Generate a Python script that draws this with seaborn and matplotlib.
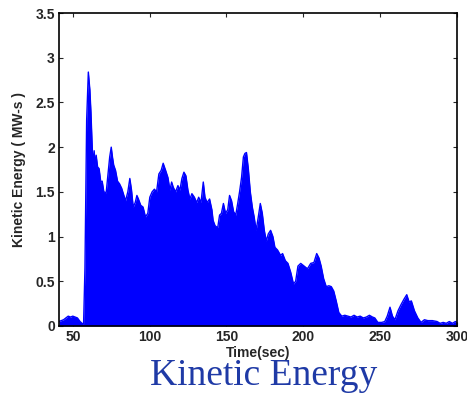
import numpy as np
import seaborn as sns
import matplotlib
matplotlib.use('Agg')
import matplotlib.pyplot as plt

# envelope of the kinetic energy trace (time in sec, MW-s)
time_sec = [41, 42.5, 44, 45.5, 47, 48.5, 50, 51.5, 53, 54.7, 56, 57,
            57.9, 59, 60.1, 61.1, 61.8, 62.5, 63.2, 63.9, 64.5, 65.2, 66.1, 67.1,
            68.2, 69.1, 70.2, 71.7, 73, 74, 75, 75.8, 76.6, 77.8, 79.1, 80.4,
            81.8, 82.9, 84.3, 85.8, 87.1, 88.2, 89.3, 90.6, 91.7, 92.7, 94.2, 95.7,
            97.3, 98.8, 100.1, 101.6, 103.1, 104.5, 106, 107.5, 108.8, 110.4, 111.9, 113.2,
            114.3, 115.4, 116.9, 118.4, 119.7, 121, 122.3, 123.6, 124.9, 126.2, 127.5, 129.1,
            130.6, 131.9, 133.4, 134.9, 136, 137.4, 139, 140.5, 141.3, 142.6, 144.3, 145.5,
            146.7, 148, 149.4, 150.8, 152, 153.3, 154.6, 156, 157.2, 158.5, 159.8, 161,
            162, 163, 164.2, 165.5, 166.8, 168, 169.3, 170.7, 172, 173.3, 174.6, 175.9,
            177.2, 178.7, 180.2, 181.5, 183.2, 185.2, 186.5, 188.3, 190, 191.8, 193.6, 195,
            196.5, 198.3, 200.5, 202.7, 204.8, 206.9, 208.7, 210.2, 211.6, 213.2, 214.9, 216.6,
            218.2, 219.8, 221.4, 223.1, 225, 227, 229, 231, 233, 235, 237, 239,
            241, 243, 245, 246.5, 248.5, 251, 253, 254.6, 256.4, 258, 259.6, 261.6,
            263.6, 265.5, 267.3, 268.8, 270.3, 272.3, 274.5, 276.6, 278.8, 281, 284, 287,
            289, 291, 293, 295, 297, 299, 300]
kinetic_energy = [0.05, 0.06, 0.07, 0.09, 0.11, 0.10, 0.11, 0.10, 0.09, 0.05, 0.03, 0.02,
                  0.65, 2.30, 2.84, 2.64, 2.39, 2.06, 1.78, 1.96, 1.80, 1.91, 1.78, 1.76,
                  1.61, 1.62, 1.50, 1.49, 1.72, 1.89, 2.00, 1.89, 1.80, 1.74, 1.62, 1.59,
                  1.54, 1.48, 1.40, 1.50, 1.65, 1.52, 1.33, 1.38, 1.46, 1.42, 1.35, 1.33,
                  1.22, 1.26, 1.44, 1.50, 1.53, 1.50, 1.70, 1.74, 1.82, 1.74, 1.66, 1.52,
                  1.61, 1.55, 1.50, 1.57, 1.52, 1.65, 1.72, 1.68, 1.52, 1.42, 1.48, 1.44,
                  1.38, 1.44, 1.38, 1.61, 1.44, 1.38, 1.42, 1.30, 1.18, 1.12, 1.10, 1.24,
                  1.26, 1.37, 1.26, 1.30, 1.46, 1.40, 1.28, 1.24, 1.36, 1.50, 1.66, 1.89,
                  1.93, 1.94, 1.76, 1.50, 1.33, 1.22, 1.07, 1.22, 1.37, 1.26, 1.07, 0.95,
                  1.03, 1.07, 1.00, 0.88, 0.85, 0.79, 0.81, 0.73, 0.70, 0.60, 0.47, 0.50,
                  0.67, 0.70, 0.67, 0.64, 0.70, 0.71, 0.81, 0.76, 0.67, 0.53, 0.44, 0.45,
                  0.44, 0.39, 0.28, 0.15, 0.11, 0.12, 0.11, 0.10, 0.12, 0.10, 0.11, 0.09,
                  0.10, 0.12, 0.10, 0.09, 0.04, 0.04, 0.05, 0.11, 0.21, 0.11, 0.07, 0.17,
                  0.24, 0.30, 0.35, 0.27, 0.28, 0.17, 0.09, 0.04, 0.07, 0.06, 0.06, 0.05,
                  0.03, 0.04, 0.03, 0.05, 0.03, 0.05, 0.04]

xticks = [50, 100, 150, 200, 250, 300]
yticks = [0, 0.5, 1, 1.5, 2, 2.5, 3, 3.5]
ytick_labels = ['0', '0.5', '1', '1.5', '2', '2.5', '3', '3.5']

sns.set_style('ticks')
plt.rcParams['font.family'] = ['Liberation Sans', 'DejaVu Sans']
plt.rcParams['xtick.direction'] = 'in'
plt.rcParams['ytick.direction'] = 'in'

fig = plt.figure(figsize=(4.67, 3.95), dpi=100)
ax = fig.add_axes([0.1263, 0.1747, 0.8523, 0.7923])

ax.fill_between(time_sec, 0, kinetic_energy, color='#0000ff', lw=0)
sns.lineplot(x=time_sec, y=kinetic_energy, color='#0000ff', lw=1.0, ax=ax)

ax.set_xlim(41, 300)
ax.set_ylim(0, 3.5)
ax.set_xticks(xticks)
ax.set_yticks(yticks)
ax.set_yticklabels(ytick_labels)
ax.tick_params(axis='both', labelsize=10, length=3, width=0.8, top=True, right=True, pad=3)
for lab in ax.get_xticklabels() + ax.get_yticklabels():
    lab.set_fontweight('bold')
for s in ax.spines.values():
    s.set_visible(True)
    s.set_linewidth(1.2)
    s.set_color('black')

ax.set_xlabel('Time(sec)', fontsize=10, fontweight='bold', labelpad=1)
ax.set_ylabel('Kinetic Energy ( MW-s )', fontsize=10, fontweight='bold', labelpad=7)

fig.text(0.565, 0.025, 'Kinetic Energy', fontsize=27, color='#1f3aa6',
         family=['Liberation Serif'], ha='center', va='baseline')

fig.savefig('out.png', dpi=100)
